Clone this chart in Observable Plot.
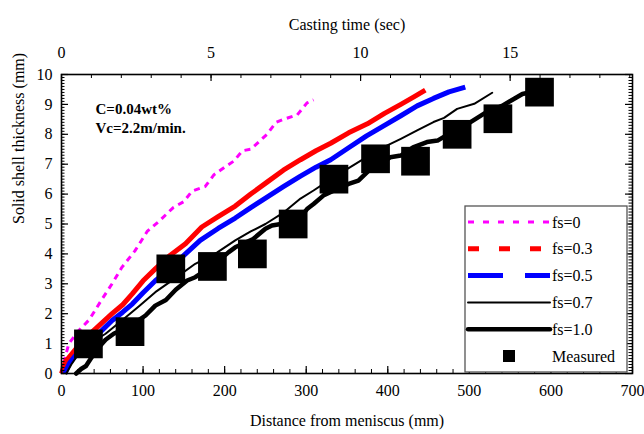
<!DOCTYPE html>
<html><head><meta charset="utf-8">
<script src="https://cdn.jsdelivr.net/npm/d3@7"></script>
<script src="https://cdn.jsdelivr.net/npm/@observablehq/plot@0.6"></script>
<style>body{margin:0;background:#fff} svg text{font-family:"Liberation Serif","Times New Roman","DejaVu Serif",serif !important;}</style>
</head><body><div id="chart"></div>
<script>
// ---- data (distance from meniscus mm, shell thickness mm) ----
const fs0 = [[0,0],[4,0.5],[9,1.0],[20,1.4],[34,1.8],[50,2.5],[62,3.0],[74,3.55],[90,4.1],[105,4.75],[120,5.1],[137,5.55],[150,5.75],[160,6.1],[176,6.25],[187,6.65],[200,6.9],[211,7.1],[222,7.45],[232,7.5],[252,8.0],[263,8.4],[272,8.5],[289,8.65],[301,9.05],[309,9.15]];
const fs03 = [[0,0],[5,0.4],[20,0.9],[30,1.2],[42,1.5],[62,2.0],[75,2.3],[87,2.67],[100,3.1],[115,3.5],[133,3.95],[152,4.34],[172,4.9],[192,5.25],[213,5.6],[232,6.0],[252,6.4],[272,6.8],[293,7.15],[312,7.45],[330,7.7],[352,8.05],[375,8.35],[396,8.7],[416,9.0],[432,9.25],[446,9.48]];
const fs05 = [[4,0],[10,0.35],[20,0.7],[33,0.95],[48,1.4],[62,1.77],[75,2.05],[87,2.33],[100,2.7],[115,3.1],[133,3.5],[150,3.95],[170,4.45],[192,4.85],[213,5.2],[232,5.55],[252,5.9],[272,6.25],[293,6.6],[312,6.9],[330,7.15],[352,7.55],[374,7.95],[396,8.3],[416,8.62],[436,8.95],[456,9.2],[475,9.42],[495,9.58]];
const fs07 = [[6,0],[12,0.3],[22,0.7],[35,1.0],[54,1.33],[74,1.77],[95,2.25],[115,2.72],[140,3.2],[164,3.67],[191,4.05],[213,4.45],[232,4.75],[250,5.0],[273,5.4],[293,5.85],[309,6.12],[330,6.5],[354,6.9],[375,7.25],[395,7.57],[416,7.85],[436,8.13],[456,8.41],[469,8.55],[485,8.85],[506,9.02],[528,9.39]];
const fs10 = [[18,0],[24,0.15],[30,0.25],[36,0.5],[45,0.85],[54,1.13],[64,1.33],[85,1.6],[103,1.94],[115,2.27],[128,2.46],[140,2.8],[154,3.11],[164,3.22],[185,3.6],[205,4.06],[213,4.22],[235,4.5],[250,4.84],[258,4.95],[280,5.05],[293,5.23],[301,5.5],[309,5.67],[321,5.95],[340,6.2],[352,6.34],[364,6.45],[377,6.79],[403,7.23],[416,7.29],[431,7.56],[448,7.74],[461,7.79],[480,8.1],[501,8.40],[518,8.69],[540,8.95],[555,9.19],[565,9.35],[590,9.5]];
const measured = [[33,0.99],[84,1.40],[134,3.50],[185,3.58],[234,4.0],[284,5.0],[334,6.5],[385,7.18],[434,7.1],[485,8.0],[535,8.52],[586,9.41]];

const xTicks = [0,100,200,300,400,500,600,700];
const yTicks = [0,1,2,3,4,5,6,7,8,9,10];
const timeTicks = [0,5,10,15];
const castingSpeed = 2.2;               // m/min
const mmPerSec = castingSpeed * 1000 / 60;
const noteLines = ["C=0.04wt%", "Vc=2.2m/min."];
const seriesNames = ["fs=0","fs=0.3","fs=0.5","fs=0.7","fs=1.0","Measured"];
const xTitle = "Distance from meniscus (mm)";
const yTitle = "Solid shell thickness (mm)";
const topTitle = "Casting time (sec)";

// ---- layout ----
const W = 644, H = 434, mT = 74, mB = 61, mL = 61, mR = 12;
const innerH = H - mT - mB, innerW = W - mL - mR;
const font = "'Liberation Serif', 'Times New Roman', serif";

const xMinor = d3.range(0, 701, 20);
const tMinor = d3.range(0, 20, 1).map(t => t * mmPerSec).filter(v => v <= 700);
const tMajor = timeTicks.map(t => t * mmPerSec);
const yMinor = d3.range(0, 101, 1).map(v => v / 10);

const styles = [
  {data: fs0,  stroke: "#ff00ff", w: 3,   dash: "6,5", cap: "butt"},
  {data: fs03, stroke: "#ff0000", w: 5,   dash: null,  cap: "butt"},
  {data: fs05, stroke: "#0000ff", w: 5,   dash: null,  cap: "butt"},
  {data: fs07, stroke: "#000000", w: 2,   dash: null,  cap: "round"},
  {data: fs10, stroke: "#000000", w: 4.5, dash: null,  cap: "round"}
];

const chart = Plot.plot({
  width: W, height: H,
  marginTop: mT, marginBottom: mB, marginLeft: mL, marginRight: mR,
  style: {fontFamily: font, background: "white", color: "black"},
  x: {domain: [0, 700], axis: null},
  y: {domain: [0, 10], axis: null},
  marks: [
    ...styles.map(s => Plot.line(s.data, {x: d => d[0], y: d => d[1], stroke: s.stroke, strokeWidth: s.w,
      strokeDasharray: s.dash, strokeLinecap: s.cap, strokeLinejoin: "round"})),
    Plot.dot(measured, {x: d => d[0], y: d => d[1], symbol: "square", r: 16.2, fill: "black", stroke: "none"}),
    // ticks bottom
    Plot.tickX(xTicks, {x: d => d, insetTop: innerH - 7, strokeWidth: 1.2}),
    Plot.tickX(xMinor, {x: d => d, insetTop: innerH - 4, strokeWidth: 1}),
    // ticks top (casting time)
    Plot.tickX(tMajor, {x: d => d, insetBottom: innerH - 7, strokeWidth: 1.2}),
    Plot.tickX(tMinor, {x: d => d, insetBottom: innerH - 4, strokeWidth: 1}),
    // ticks left / right
    Plot.tickY(yTicks, {y: d => d, insetRight: innerW - 7, strokeWidth: 1.2}),
    Plot.tickY(yMinor, {y: d => d, insetRight: innerW - 3.5, strokeWidth: 1}),
    Plot.tickY(yTicks, {y: d => d, insetLeft: innerW - 7, strokeWidth: 1.2}),
    Plot.tickY(yMinor, {y: d => d, insetLeft: innerW - 3.5, strokeWidth: 1}),
    Plot.frame({stroke: "black", strokeWidth: 1.6}),
    // tick labels
    Plot.text(xTicks, {x: d => d, frameAnchor: "bottom", dy: 22, text: d => String(d), fontSize: 16}),
    Plot.text(yTicks, {y: d => d, frameAnchor: "left", dx: -9, textAnchor: "end", text: d => String(d), fontSize: 16}),
    Plot.text(timeTicks, {x: t => t * mmPerSec, frameAnchor: "top", dy: -28, text: d => String(d), fontSize: 16}),
    // titles
    Plot.text([xTitle], {frameAnchor: "bottom", dy: 52, text: d => d, fontSize: 16}),
    Plot.text([topTitle], {frameAnchor: "top", dy: -56, text: d => d, fontSize: 16}),
    Plot.text([yTitle], {frameAnchor: "left", dx: -43, rotate: -90, text: d => d, fontSize: 16}),
    // note
    Plot.text([noteLines[0]], {frameAnchor: "top-left", dx: 34, dy: 29, text: d => d, fontSize: 15, fontWeight: "bold", textAnchor: "start"}),
    Plot.text([noteLines[1]], {frameAnchor: "top-left", dx: 34, dy: 48, text: d => d, fontSize: 15, fontWeight: "bold", textAnchor: "start"})
  ]
});

document.getElementById("chart").appendChild(chart);
const svg = d3.select(chart);

// ---- legend ----
const lg = svg.append("g").attr("font-family", font).attr("font-size", 16).attr("text-anchor", "start");
lg.append("rect").attr("x", 465).attr("y", 206).attr("width", 162).attr("height", 166)
  .attr("fill", "white").attr("stroke", "#555").attr("stroke-width", 1.3);
const legendDash = ["6,9", "11,20", "35,22", null, null];
seriesNames.forEach((name, i) => {
  const y = 222 + i * 26.8;
  if (i < 5) {
    const s = styles[i];
    lg.append("line").attr("x1", 468).attr("x2", 550).attr("y1", y).attr("y2", y)
      .attr("stroke", s.stroke).attr("stroke-width", s.w)
      .attr("stroke-dasharray", legendDash[i]).attr("stroke-linecap", s.cap);
  } else {
    lg.append("rect").attr("x", 503).attr("y", y - 6).attr("width", 12).attr("height", 12).attr("fill", "black");
  }
  lg.append("text").attr("x", 552).attr("y", y).attr("dy", "0.35em").attr("text-anchor", "start").text(name);
});
</script></body></html>
